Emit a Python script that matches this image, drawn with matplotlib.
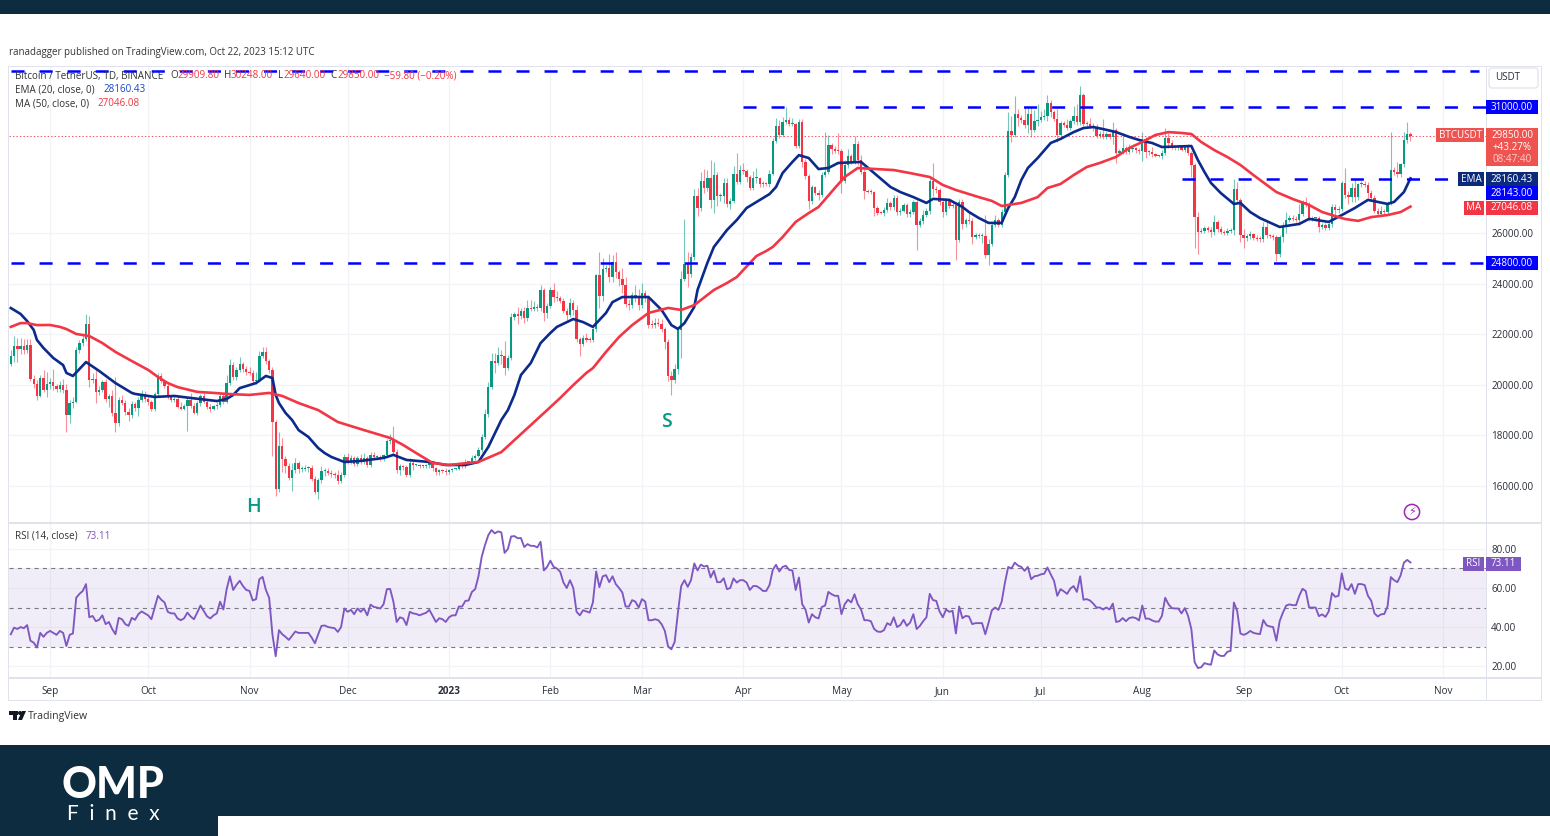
import numpy as np
import pandas as pd
import matplotlib
matplotlib.use("Agg")
import matplotlib.pyplot as plt
from matplotlib.patches import Rectangle, FancyBboxPatch, Polygon, Circle

plt.rcParams['font.family'] = ['Open Sans', 'DejaVu Sans']
plt.rcParams['lines.scale_dashes'] = False

START = pd.Timestamp('2022-08-20')

closes = [
 21140,21515,21400,21520,21360,21565,20240,20030,19550,20285,19810,20050,
 20130,19950,19830,19990,19795,18790,19290,19320,21360,21650,21825,22395,20175,20225,19700,19800,20110,19420,19540,18875,18490,19400,19290,18920,18800,19225,19080,19410,19590,19420,
 19310,19055,19625,20335,20160,19955,19530,19415,19440,19130,19060,19155,19380,19175,18890,19265,19550,19330,19125,19040,19160,19205,19570,19330,20085,20770,20295,20595,20820,20625,20490,
 20480,20150,20205,21145,21300,20925,20600,18540,15880,17590,17070,16810,16330,16620,16900,16660,16690,16700,16700,16280,15780,16225,16600,16600,16520,16460,16430,16210,16440,17165,
 16980,17090,16885,17105,16965,17090,16835,17225,17130,17130,17085,17210,17775,17800,17360,16630,16780,16740,16440,16895,16825,16825,16780,16780,16830,16915,16705,16545,16630,16600,16540,
 16615,16670,16670,16850,16830,16950,16940,17120,17180,17440,17940,18845,19930,20955,20880,21185,21135,20675,21070,22670,22780,22710,22920,22635,23055,23015,23075,23030,23745,22830,23125,
 23730,23490,23430,23325,22930,22765,23240,22960,21795,21625,21860,21785,21780,22200,24325,23520,24570,24630,24275,24840,24440,24190,23945,23190,23155,23555,23490,23140,
 23630,23470,22355,22350,22430,22410,22200,21705,20360,20185,20630,22160,24200,24770,24375,25050,27455,26970,28040,27770,28175,27305,28300,27455,27480,27990,27140,27270,28350,28030,28480,
 28450,28200,27800,28170,28175,27920,27955,27920,28335,29650,30235,29890,30395,30485,30315,30315,29445,30395,28820,28245,27265,27815,27590,27515,28305,28420,29470,29340,29245,29230,
 28070,28670,29030,28840,29535,28900,28430,27660,27630,27625,26985,26805,26785,26925,27170,27030,27400,26825,26885,27100,26745,26850,27225,26330,26475,26720,26870,28075,27745,27700,27210,
 26820,27250,27070,27115,25730,27235,26345,26500,26475,25850,25920,25900,25900,25125,25575,26330,26510,26335,26840,28310,30025,29890,30690,30530,30465,30270,30690,30080,30445,30470,
 30585,30620,31155,30770,30510,29895,30345,30290,30170,30415,30620,30380,31450,30315,30300,30250,30145,29855,29915,29800,29910,29800,30085,29175,29225,29355,29215,29315,29355,29275,29230,
 29705,29185,29195,29115,29045,29045,29180,29770,29560,29425,29400,29415,29285,29410,29170,28700,26625,26050,26100,26190,26125,26040,26430,26160,26060,26015,26090,26105,27725,27300,25940,
 25800,25870,25970,25815,25780,25750,26240,25905,25895,25830,25160,25840,26220,26530,26600,26570,26530,26760,27210,27130,26570,26580,26580,26250,26300,26215,26350,27030,26905,26960,
 27985,27500,27430,27790,27410,27930,27955,27915,27590,27390,26875,26755,26860,26850,27150,28500,28395,28330,28715,29675,29910,29850,
]
upper_wicks = [
 250,400,350,350,300,250,235,150,150,115,295,450,
 150,500,100,150,250,250,100,200,120,120,150,400,325,250,400,150,100,120,100,250,1450,100,200,120,150,150,100,100,200,150,
 100,100,100,150,150,50,100,50,100,100,200,100,150,300,100,100,100,200,50,100,50,100,100,100,315,250,150,100,265,100,100,
 200,100,300,200,180,200,100,100,60,560,300,100,100,300,200,100,100,150,100,150,100,100,200,100,100,100,100,200,100,100,
 150,150,100,100,150,200,100,100,100,100,100,50,100,250,590,120,100,60,100,200,150,50,60,50,50,60,100,50,50,50,100,
 50,50,50,100,100,100,30,100,100,100,100,200,200,300,300,300,200,600,100,150,100,300,100,150,300,300,250,100,200,100,100,
 150,300,200,100,100,100,200,100,200,100,100,200,100,100,55,925,450,100,560,280,410,100,410,300,200,100,400,300,
 400,100,100,200,200,200,200,100,100,180,200,100,300,1780,480,150,300,325,360,490,300,700,500,100,100,200,200,100,300,830,200,
 300,100,100,300,400,50,100,50,150,100,300,250,200,500,100,250,20,100,100,100,100,100,50,100,100,1570,420,100,100,700,
 100,200,300,100,300,100,200,100,100,100,50,100,50,100,200,100,100,100,100,100,100,100,100,100,100,200,100,100,700,100,100,
 100,100,100,100,100,100,100,100,300,100,100,100,100,800,200,100,200,100,100,100,775,600,740,200,150,500,300,300,400,650,
 250,300,300,100,100,400,100,100,200,100,400,500,350,100,100,250,100,150,100,600,100,50,300,50,100,600,100,200,50,50,100,
 300,100,100,200,50,50,100,400,200,100,50,50,50,50,100,80,80,200,100,100,100,100,300,100,100,50,100,100,415,280,100,
 200,100,100,50,100,100,200,250,50,50,100,100,200,300,100,100,100,400,100,200,100,100,50,100,100,100,100,100,100,100,
 65,600,150,200,350,50,100,100,100,100,100,100,200,100,100,1500,100,400,50,325,470,100,
]
lower_wicks = [
 100,250,500,200,150,100,100,150,150,20,100,300,
 200,150,100,100,100,650,300,200,20,100,100,100,270,100,400,100,100,100,300,100,365,100,100,100,250,100,100,300,100,100,
 100,100,100,100,100,100,100,100,100,50,50,50,965,100,50,100,100,50,100,100,50,100,100,100,50,100,100,100,100,100,100,
 100,100,100,100,100,100,150,1370,290,130,500,300,100,510,100,150,100,100,150,100,100,300,100,200,100,100,100,150,100,100,
 100,100,100,100,100,100,100,100,100,100,100,100,100,100,150,100,200,100,100,100,200,50,60,50,50,100,100,100,100,100,100,
 50,50,50,50,100,100,30,50,100,50,100,100,100,100,400,100,300,300,100,100,100,300,100,200,100,100,100,100,100,300,200,
 100,200,100,100,100,200,100,200,100,500,100,100,100,100,100,500,200,100,200,200,200,300,300,100,200,100,200,200,
 100,200,100,100,100,100,100,300,200,600,100,200,1100,100,500,100,100,300,100,200,100,300,500,400,200,300,100,200,100,100,100,
 100,200,100,100,200,100,100,50,100,50,100,150,100,100,100,100,100,100,200,100,300,100,100,200,100,100,100,200,100,100,
 500,100,100,100,100,200,100,300,50,100,300,100,50,100,100,100,100,100,100,50,100,100,100,1000,100,100,100,100,300,100,100,
 200,100,100,100,800,100,200,100,100,300,100,100,300,100,400,100,100,100,100,100,100,300,100,300,100,100,300,300,100,200,
 100,100,200,200,100,300,100,100,100,100,100,100,100,100,100,100,100,100,100,100,100,100,300,400,100,100,100,100,100,100,100,
 400,200,100,100,50,50,100,100,200,100,100,100,50,100,100,500,1200,880,50,100,100,200,100,100,100,100,100,100,200,100,300,
 400,100,100,100,100,100,100,100,100,100,280,100,200,200,100,100,100,200,100,100,100,100,100,200,100,100,100,100,200,100,
 100,100,300,200,200,100,100,100,200,100,100,100,100,100,100,40,100,100,100,100,100,210,
]
rsi_values = [
 36.3,39.7,39,40,39.4,41,33,32,29.5,37,35,37,
 38,37,36,38,37,30.3,36,36.7,55,57,58.5,62,45,45.7,43,43.7,46,41.5,42.6,39,36.3,44.7,44,41.5,40.6,44.7,43.7,46.6,48,47,
 46,44,50,56,54,52.6,47.8,47,47,44.4,43.5,44.5,47.4,45.4,44,47.4,51,48.3,45.5,44.4,46,47,53,49,59.4,66,59,61.6,63.7,61,59,
 58.5,53.6,54.3,64.5,65.7,59,55,36.3,25,38.4,36.3,35,33.4,35.5,37.7,37,37,37,37,34.6,31.7,36.3,40.6,40.8,40,39.7,39.4,37.5,40,49.5,
 47.8,48.8,46.6,49.5,47.8,49.5,46,51.5,50.3,50,49.5,51.7,59.4,59.5,53,42.6,45,44.4,41,47.8,47,46.7,46,46.7,47.3,48.8,45.7,42.6,44.5,44,42.6,
 45,46,46,50.5,50.5,53.4,53.6,58,59.4,66,76,82,87,89.7,88,89,88.5,78,80,86.4,86.6,85.5,85.6,81,82.5,81.6,81.6,80.8,83.7,69,70.8,
 74,70.8,70,68.3,62.8,60,64,60,47.8,46,48.6,48,47.4,52.6,68.5,60.4,66,66.6,63,66,62,60,57.7,50.5,50.5,53.8,53,50,
 54.3,53,43.5,43.5,44,43.5,41.5,38,30,28.6,32.4,47.4,61,64,60.6,64,72.6,69,72,71,71.4,65.4,68.8,63,63,65,59.4,60,64.9,62.8,64,
 64,62.8,59,61,61,60,58.5,58.5,61.5,69.3,71.9,68.5,70.8,71.4,69.3,69,59,65.4,51.7,49,42.3,46.6,45,44.4,50.3,51,58,56.8,56,56,
 46.6,51.7,54,52.6,56.8,51.7,49,43.5,43.5,43,39,37.7,37.5,38.4,42,41,45,40,41,43.7,40.6,42.3,46.6,39,40.6,43,45,57,53.8,53.4,48,
 45,49,47.8,48.3,36.7,50.5,44.5,45.7,45.4,41.5,42,42,42,36.3,42.3,48.6,50,48.8,53,62.8,70.8,70,73,71.5,70.8,68.8,70.8,64.5,66,66.3,
 67,67.3,70.5,67,63.7,56,59.4,58.3,57,59.7,61,58,66,54,54.3,53.6,52,50,50,49,50,49,52,42.6,43,44.6,43,44.6,45,44.6,43.4,
 51,44.3,44.3,43.4,42.8,42.8,45.7,55,51.7,49.7,49.5,49.5,47,49.7,45.7,39,22,19,19.4,21.5,21,20.7,28,26,25.2,25.2,27.3,27.8,52.6,48.3,36.7,
 36,36.7,38,37,36.6,36.4,43.6,40.9,40.3,40,33,43,47.4,51,51.6,51.2,51.2,56,59.6,58.4,50,50,50,45.6,46.5,45.2,48,57.4,55.5,56,
 67.5,59.8,59,62,57,62,62,61.5,56,53.5,47,45.4,46.5,46.7,50.6,65.6,64,63,66.5,73,74.4,73.11,
]
ema_days = [0,5,8,13,17,19,23,27,32,38,44,50,55,63,66,70,75,78,80,81,84,88,94,98,102,107,114,117,121,128,133,139,143,146,150,152,156,162,167,172,178,184,187,195,199,204,209,213,219,225,232,236,241,247,253,260,269,276,280,282,287,293,299,303,307,311,318,325,331,338,346,352,361,367,374,376,382,388,394,397,403,407,415,421,423,426,428,
 3,7,10,16,37,68,82,86,91,96,154,159,165,175,182,202,206,210,215,222,228,234,239,244,250,264,272,291,296,305,309,314,321,328,334,342,349,363,365,370,379,411,418]
ema_values = [23036,22520,21770,21060,20470,20350,20900,20550,20070,19640,19520,19560,19480,19360,19440,19870,20070,20350,20270,19600,18890,18210,17500,17150,16950,16990,17110,17230,17030,16950,16830,16830,16950,17540,18610,19000,20390,21650,22290,22600,22290,23270,23470,23470,22960,22210,23080,24820,26120,26990,27540,28370,29080,28530,28770,28810,27820,27420,27190,27350,27310,26830,26400,26400,27420,28570,29560,29990,30190,29990,29640,29400,29440,27980,27150,27190,26590,26240,26360,26560,26440,26710,27310,27150,27230,27620,28160.43,
 22800,22170,21455,20780,19680,19600,19280,18610,17940,17300,19600,20860,22050,22480,22840,22360,22440,23750,25450,26515,27225,27820,28810,28965,28570,28370,27620,27030,26595,26990,28095,28965,29720,30150,30110,29800,29560,28885,28415,27580,26830,26990,27230]
ma_days = [0,5,8,15,20,24,32,42,45,51,57,66,73,79,88,100,116,124,129,134,143,150,164,172,178,186,195,201,205,209,215,222,228,233,240,247,255,259,270,281,289,296,303,309,314,321,329,338,346,354,361,368,376,387,397,406,412,416,425,428,
 3,12,17,22,28,37,48,62,83,94,108,120,168,176,182,190,219,226,231,236,244,252,275,285,300,317,325,333,342,350,358,364,372,380,392,401,408,421]
ma_values = [22290,22440,22360,22290,22010,21930,21300,20590,20310,19910,19720,19640,19600,19680,19280,18530,17900,17300,16910,16830,16950,17340,19000,19990,20660,21890,22840,23040,22960,23150,23750,24260,25090,25450,26440,27030,28215,28570,28490,28215,27700,27420,27070,27190,27420,27940,28610,29010,29600,29990,29915,29280,28690,27620,27110,26630,26480,26630,26830,27046.08,
 22440,22365,22205,21970,21650,20940,20070,19680,19560,19000,18210,17620,19480,20470,21300,22360,24025,24815,25290,25840,26790,27780,28370,27900,27270,27780,28290,28770,29360,29875,29955,29600,29005,28290,27345,26830,26555,26710]
price_ticks = [16000,18000,20000,22000,24000,26000]
rsi_ticks = [20,40,60,80]
month_ticks = ['2022-09-01','2022-10-01','2022-11-01','2022-12-01','2023-01-01','2023-02-01','2023-03-01','2023-04-01','2023-05-01','2023-06-01','2023-07-01','2023-08-01','2023-09-01','2023-10-01','2023-11-01']
month_labels = ['Sep','Oct','Nov','Dec','2023','Feb','Mar','Apr','May','Jun','Jul','Aug','Sep','Oct','Nov']
levels = [(32400,'2022-08-20'),(31000,'2023-04-01'),(28143,'2023-08-13'),(24800,'2022-08-20')]
last_price = 29850

W, H = 1550, 836
GREEN, RED, BLUE, NAVY, PURPLE = '#089981', '#f23645', '#0000ff', '#0b2a8c', '#7e57c2'
TXT, GRID, EDGE = '#2a2e39', '#f2f3f7', '#e0e3eb'

n = len(closes)
days = np.arange(n)
c = np.array(closes, float)
o = np.r_[c[0] - 300, c[:-1]]
o[-1] = 29909.8
hi = np.maximum(o, c) + np.array(upper_wicks, float)
lo = np.minimum(o, c) - np.array(lower_wicks, float)
tick_days = [(pd.Timestamp(m) - START).days for m in month_ticks]
XLIM = (-0.55, 451.1)

fig = plt.figure(figsize=(W / 100, H / 100), dpi=100, facecolor='white')
def box(x0, y0, x1, y1):
    return [x0 / W, 1 - y1 / H, (x1 - x0) / W, (y1 - y0) / H]

ax = fig.add_axes(box(9, 66, 1486, 522))
rx = fig.add_axes(box(9, 524, 1486, 677))
for a in (ax, rx):
    a.set_xlim(*XLIM)
    a.set_axisbelow(True)
    a.set_xticks(tick_days)
    a.grid(True, color=GRID, lw=0.9)
    for s in a.spines.values():
        s.set_visible(False)
    a.tick_params(length=0)

ax.set_ylim(14577, 32603)
ax.set_yticks(price_ticks)
ax.set_yticklabels([f'{v}.00' for v in price_ticks], fontsize=7.1, color=TXT)
ax.yaxis.tick_right()
ax.tick_params(axis='y', pad=3.8)
ax.tick_params(axis='x', labelbottom=False)

cols = np.where(c >= o, GREEN, RED)
ax.vlines(days, lo, hi, colors=cols, lw=0.8, alpha=0.55, zorder=2)
ax.bar(days, np.maximum(np.abs(c - o), 40), bottom=np.minimum(o, c), width=0.72, color=cols, lw=0, zorder=3)
ax.axhline(last_price, color=RED, lw=0.6, ls=(0, (1, 1.5)), zorder=2)
ema_order = np.argsort(ema_days)
ma_order = np.argsort(ma_days)
ax.plot(np.array(ema_days)[ema_order], np.array(ema_values)[ema_order], color=NAVY, lw=1.9, zorder=4, solid_joinstyle='round')
ax.plot(np.array(ma_days)[ma_order], np.array(ma_values)[ma_order], color=RED, lw=1.9, zorder=4, solid_joinstyle='round')
for v, d in levels:
    x0 = (pd.Timestamp(d) - START).days
    ax.plot([x0, n + 20 if v == 32400 else XLIM[1]], [v, v], color=BLUE, lw=1.8,
            dashes=(9.4, 10.8), dash_capstyle='butt', zorder=5)

rx.set_ylim(14.4, 92.8)
rx.set_yticks(rsi_ticks)
rx.set_yticklabels([f'{v}.00' for v in rsi_ticks], fontsize=7.1, color=TXT)
rx.yaxis.tick_right()
rx.tick_params(axis='y', pad=3.8)
rx.set_xticklabels(month_labels, fontsize=7.2, color=TXT)
rx.tick_params(axis='x', pad=6.5)
rx.get_xticklabels()[4].set_fontweight('bold')
rx.axhspan(30, 70, color=PURPLE, alpha=0.1, lw=0, zorder=1)
for v in (30, 50, 70):
    rx.axhline(v, color='#787b86', lw=0.8, dashes=(3, 3), zorder=2)
rx.plot(days, rsi_values, color=PURPLE, lw=1.35, zorder=4)

ov = fig.add_axes([0, 0, 1, 1], facecolor='none')
ov.set_xlim(0, W)
ov.set_ylim(H, 0)
ov.axis('off')

def rect(x0, y0, x1, y1, col, **kw):
    ov.add_patch(Rectangle((x0, y0), x1 - x0, y1 - y0, fc=col, ec='none', **kw))
def txt(x, y, s, col=TXT, size=7.1, ha='left', **kw):
    ov.text(x, y + 1, s, color=col, fontsize=size, ha=ha, va='center', **kw)
def tag(x0, x1, y, s, col, h=14):
    rect(x0, y - h / 2, x1, y + h / 2, col)
    txt((x0 + x1) / 2, y - 0.5, s, 'white', 7.1, 'center', fontweight='medium')

# page bands
BAND = '#0d2c40'
rect(0, 0, W, 14, BAND)
rect(0, 745, W, 836, BAND)
rect(218, 816, W, 836, 'white')

# frame
for (x0, y0, x1, y1) in [(8, 66, 1541, 67), (8, 700, 1541, 701), (8, 66, 9, 701), (1541, 66, 1542, 701),
                         (8, 522, 1541, 524), (8, 677, 1541, 679), (1486, 66, 1487, 701)]:
    rect(x0, y0, x1, y1, EDGE)

txt(9, 52, 'ranadagger published on TradingView.com, Oct 22, 2023 15:12 UTC', '#333333', 7.0)

# legend rows
txt(15, 75, 'Bitcoin / TetherUS, 1D, BINANCE', '#333333')
txt(170, 75, 'O', '#333333')
txt(177, 75, '29909.80', RED)
txt(224, 75, 'H', '#333333')
txt(231, 75, '30248.00', RED)
txt(278, 75, 'L', '#333333')
txt(283, 75, '29640.00', RED)
txt(330, 75, 'C', '#333333')
txt(337, 75, '29850.00', RED)
txt(384, 75, '−59.80 (−0.20%)', RED)
txt(15, 89, 'EMA (20, close, 0)', '#333333')
txt(103, 89, '28160.43', '#1848cc')
txt(15, 103, 'MA (50, close, 0)', '#333333')
txt(98, 103, '27046.08', RED)
txt(15, 535.5, 'RSI (14, close)', '#333333')
txt(86, 535.5, '73.11', PURPLE)

# annotations
txt(253, 506, 'H', GREEN, 14, 'center', fontweight='semibold')
txt(666, 421, 'S', GREEN, 14, 'center', fontweight='semibold')

# right scale tags
ov.add_patch(FancyBboxPatch((1489, 68), 49, 20, boxstyle='round,pad=0,rounding_size=3', fc='white', ec=EDGE, lw=0.9))
txt(1508, 77, 'USDT', TXT, 7.1, 'center')
tag(1486, 1538, 106.5, '31000.00', BLUE)
tag(1486, 1538, 263, '24800.00', BLUE)
rect(1486, 128, 1538, 166, '#ef5350')
txt(1512, 134.5, '29850.00', 'white', 7.1, 'center', fontweight='medium')
txt(1512, 146.5, '+43.27%', 'white', 7.1, 'center', fontweight='medium')
txt(1512, 158.5, '08:47:40', '#fbd0d0', 7.1, 'center')
tag(1436, 1484, 135, 'BTCUSDT', '#ef5350')
tag(1486, 1538, 179, '28160.43', '#0b2a7c')
tag(1458, 1484, 179, 'EMA', '#0b2a7c')
tag(1486, 1538, 193, '28143.00', BLUE)
tag(1486, 1538, 207.5, '27046.08', RED)
tag(1464, 1484, 207.5, 'MA', RED)
tag(1486, 1521, 563.5, '73.11', PURPLE)
tag(1463, 1484, 563.5, 'RSI', PURPLE)

# event icon
ov.add_patch(Circle((1412, 512), 7.6, fc='white', ec='#9c27b0', lw=1.1, zorder=6))
ov.text(1412, 512, '\u26a1', color='#9c27b0', fontsize=8, ha='center', va='center',
        family=['DejaVu Sans'], zorder=7)

# TradingView mark
LOGO = '#131722'
rect(9, 711, 18, 714.5, LOGO)
rect(13, 711, 17, 720, LOGO)
ov.add_patch(Circle((20, 713), 2, fc=LOGO, ec='none'))
ov.add_patch(Polygon([[22, 711], [26, 711], [22, 720], [18, 720]], fc=LOGO, ec='none'))
txt(28, 715, 'TradingView', '#333333', 7.6)

# OMP Finex mark
ov.text(113, 785, 'OMP', color='white', fontsize=31, fontweight='black', ha='center', va='center',
        family=['Lato', 'DejaVu Sans'])
ov.text(113, 814, 'F  i  n  e  x', color='white', fontsize=15, ha='center', va='center',
        family=['Lato', 'DejaVu Sans'])

fig.savefig('out.png', dpi=100, facecolor='white')
